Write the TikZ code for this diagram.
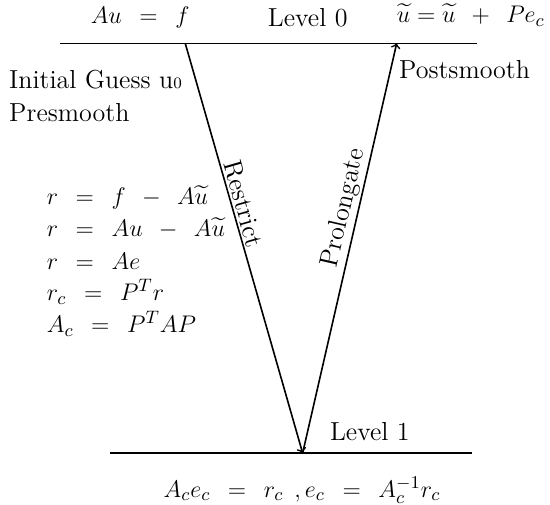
\documentclass[tikz,border=0pt]{standalone}
\usepackage{amsmath,amssymb}
\usepackage{tikz}
\usetikzlibrary{positioning,calc,arrows}
\newcommand{\wsp}{\hspace{0.42em}}
\tikzset{
  lvl/.style={line width=0.8pt},
  vcyc/.style={->,line width=0.8pt},
  lbl/.style={inner sep=1pt,font=\fontsize{13}{16}\selectfont},
}

\begin{document}
\begin{tikzpicture}
      \useasboundingbox (0,0) rectangle (9.65,8.86);
      % levels
      \coordinate (L0a) at (1.05,8.10);
      \coordinate (L0b) at (8.37,8.10);
      \coordinate (L1a) at (1.93,0.91);
      \coordinate (L1b) at (8.28,0.91);
      \coordinate (R0) at (3.25,8.10);
      \coordinate (M1) at (5.31,0.91);
      \coordinate (P0) at (6.96,8.10);
      \draw[lvl] (L0a) -- (L0b);
      \draw[lvl] (L1a) -- (L1b);
      \draw[vcyc] (R0) -- node[lbl,sloped,above,pos=0.40] {Restrict} (M1);
      \draw[vcyc] (M1) -- node[lbl,sloped,above,pos=0.59] {Prolongate} (P0);
      % texts
      \node[lbl] (eq0) at (2.46,8.55) {$Au \wsp = \wsp f$};
      \node[lbl] (lv0) at (5.40,8.55) {Level 0};
      \node[lbl] (upd) at (8.26,8.59) {$\widetilde{u} = \widetilde{u} \wsp + \wsp Pe_c$};
      \node[lbl,anchor=west] (ig) at (0.12,7.46) {Initial Guess u{\footnotesize 0}};
      \node[lbl,anchor=west] (pre) at (0.12,6.88) {Presmooth};
      \node[lbl,anchor=west] (post) at (6.96,7.64) {Postsmooth};
      \node[lbl,anchor=west] (e1) at (0.78,5.40) {$r \wsp = \wsp f \wsp - \wsp A\widetilde{u}$};
      \node[lbl,anchor=west] (e2) at (0.78,4.85) {$r \wsp = \wsp Au \wsp - \wsp A\widetilde{u}$};
      \node[lbl,anchor=west] (e3) at (0.78,4.28) {$r \wsp = \wsp Ae$};
      \node[lbl,anchor=west] (e4) at (0.78,3.74) {$r_c \wsp = \wsp P^T r$};
      \node[lbl,anchor=west] (e5) at (0.78,3.18) {$A_c \wsp = \wsp P^T AP$};
      \node[lbl] (lv1) at (6.49,1.28) {Level 1};
      \node[lbl] (crs) at (5.30,0.26) {$A_c e_c \wsp = \wsp r_c \wsp , e_c \wsp = \wsp A_c^{-1} r_c$};
    \end{tikzpicture}
\end{document}
